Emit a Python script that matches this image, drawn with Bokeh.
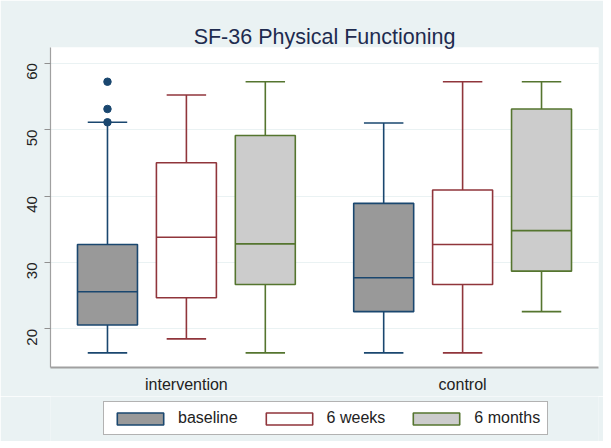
import math
from bokeh.plotting import figure
from bokeh.layouts import column
from bokeh.models import Legend, LegendItem, FixedTicker, ColumnDataSource
from bokeh.embed import file_html
from bokeh.resources import INLINE

# ---- data ----
groups = ["intervention", "control"]
times = ["baseline", "6 weeks", "6 months"]
lower_whisker = [16.4, 18.5, 16.4, 16.4, 16.4, 22.6]
q1 = [20.6, 24.7, 26.7, 22.6, 26.7, 28.7]
median = [25.6, 33.8, 32.8, 27.7, 32.7, 34.8]
q3 = [32.7, 45.0, 49.1, 38.9, 40.9, 53.1]
upper_whisker = [51.1, 55.2, 57.2, 51.0, 57.2, 57.2]
outlier_group = ["intervention", "intervention", "intervention"]
outlier_time = ["baseline", "baseline", "baseline"]
outlier_values = [51.1, 53.1, 57.2]
y_ticks = [20, 30, 40, 50, 60]

# ---- styles ----
line_colors = {"baseline": "#1a476f", "6 weeks": "#90353b", "6 months": "#55752f"}
fill_colors = {"baseline": "#999999", "6 weeks": "#ffffff", "6 months": "#cccccc"}
BG = "#eaf2f3"
FONT = "Liberation Sans"
group_gap = 0.5
box_w = 0.76
cap_w = 0.5
W = 603

def xpos(g, t):
    return groups.index(g) * (len(times) + group_gap) + times.index(t)

rows = [(g, t) for g in groups for t in times]
xs = [xpos(g, t) for g, t in rows]
lc = [line_colors[t] for g, t in rows]
fc = [fill_colors[t] for g, t in rows]

src = ColumnDataSource(dict(
    x=xs, lw=lower_whisker, q1=q1, med=median, q3=q3, uw=upper_whisker,
    lc=lc, fc=fc,
    bl=[x - box_w / 2 for x in xs], br=[x + box_w / 2 for x in xs],
    cl=[x - cap_w / 2 for x in xs], cr=[x + cap_w / 2 for x in xs],
))

span = len(groups) * len(times) + (len(groups) - 1) * group_gap - 1
pad = 0.722
p = figure(width=W, height=396, output_backend="svg", toolbar_location=None,
           x_range=(-pad, span + pad), y_range=(14.2, 62.35),
           min_border_left=50, min_border_right=5, min_border_top=47,
           min_border_bottom=29)
p.border_fill_color = BG
p.background_fill_color = "white"
p.outline_line_color = None

p.title.text = "SF-36 Physical Functioning"
p.title.align = "center"
p.title.text_font = FONT
p.title.text_font_size = "21.5px"
p.title.text_font_style = "normal"
p.title.text_color = "#1e2b4f"
p.title.standoff = -3

# whiskers
p.segment("x", "lw", "x", "q1", source=src, line_color="lc", line_width=1.6)
p.segment("x", "q3", "x", "uw", source=src, line_color="lc", line_width=1.6)
p.segment("cl", "lw", "cr", "lw", source=src, line_color="lc", line_width=1.6)
p.segment("cl", "uw", "cr", "uw", source=src, line_color="lc", line_width=1.6)
# boxes
p.vbar(x="x", width=box_w, bottom="q1", top="q3", source=src,
       fill_color="fc", line_color="lc", line_width=1.6)
p.segment("bl", "med", "br", "med", source=src, line_color="lc", line_width=1.6)
# outliers
ox = [xpos(g, t) for g, t in zip(outlier_group, outlier_time)]
oc = [line_colors[t] for t in outlier_time]
p.scatter(ox, outlier_values, size=7.5, fill_color=oc, line_color=oc)

# axes
p.xgrid.visible = False
p.ygrid.grid_line_color = BG
p.ygrid.grid_line_width = 1
p.yaxis.ticker = FixedTicker(ticks=y_ticks)
p.yaxis.minor_tick_line_color = None
p.yaxis.major_tick_out = 6
p.yaxis.major_tick_in = 0
p.yaxis.major_tick_line_color = "#909090"
p.yaxis.axis_line_color = "#a0a0a0"
p.yaxis.axis_line_width = 1.2
p.yaxis.major_label_orientation = math.pi / 2
p.yaxis.major_label_text_font = FONT
p.yaxis.major_label_text_font_size = "15px"
p.yaxis.major_label_text_color = "#222222"
p.yaxis.major_label_standoff = 12

centers = [gi * (len(times) + group_gap) + (len(times) - 1) / 2 for gi in range(len(groups))]
p.xaxis.ticker = FixedTicker(ticks=centers)
p.xaxis.major_label_overrides = {c: g for c, g in zip(centers, groups)}
p.xaxis.minor_tick_line_color = None
p.xaxis.major_tick_line_color = None
p.xaxis.major_tick_out = 0
p.xaxis.major_tick_in = 0
p.xaxis.axis_line_color = "#a0a0a0"
p.xaxis.axis_line_width = 2
p.xaxis.major_label_text_font = FONT
p.xaxis.major_label_text_font_size = "16px"
p.xaxis.major_label_text_color = "#222222"
p.xaxis.major_label_standoff = 8

# ---- legend strip (separate figure so it sits below the axis) ----
p2 = figure(width=W, height=45, output_backend="svg", toolbar_location=None,
            x_range=(-pad, span + pad), y_range=(0, 1),
            x_axis_type=None, y_axis_type=None,
            min_border_left=50, min_border_right=5, min_border_top=0,
            min_border_bottom=0)
p2.border_fill_color = BG
p2.background_fill_color = BG
p2.outline_line_color = None
p2.grid.visible = False
lboxes = p2.vbar(x="x", width=box_w, bottom="q1", top="q3", source=src,
                 fill_color="fc", line_color="lc", line_width=1.6)
lboxes.visible = False

items = [LegendItem(label=t, renderers=[lboxes], index=i) for i, t in enumerate(times)]
legend = Legend(items=items, orientation="horizontal", location=(53, 6),
                glyph_width=58, glyph_height=15, label_standoff=9, spacing=22,
                padding=7, margin=0,
                label_text_font=FONT, label_text_font_size="16px",
                label_text_color="#222222",
                inactive_fill_alpha=0,
                border_line_color="#666666", border_line_width=1,
                background_fill_color="white", background_fill_alpha=1)
p2.add_layout(legend, "center")

layout = column(p, p2, spacing=0)
open("out.html", "w").write(file_html(layout, INLINE))
